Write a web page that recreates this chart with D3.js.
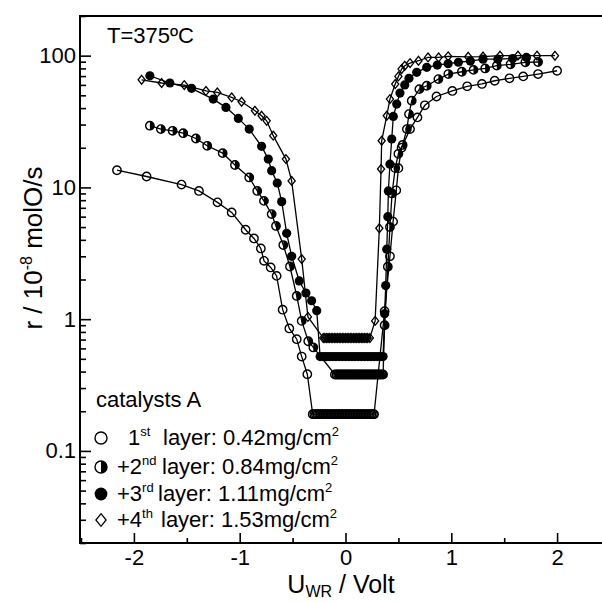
<!DOCTYPE html>
<html>
<head>
<meta charset="utf-8">
<script src="https://cdn.jsdelivr.net/npm/d3@7"></script>
<style>
    body { margin: 0; background: #fff; }
    svg { display: block; font-family: "Liberation Sans", Arial, sans-serif; }
</style>
</head>
<body>
<svg id="chart"></svg>
<script>
"use strict";

var Width = 602,
    Height = 602;

// [U_WR (V), r (10^-8 molO/s)]
// 1st layer (open circles)
var layer1 = [
    [-2.16, 13.5], [-1.88, 12.1], [-1.55, 10.5], [-1.385, 9.4], [-1.21, 7.7], [-1.076, 6.46], [-0.944, 4.77], [-0.865, 4.1],
    [-0.80, 3.44], [-0.77, 2.77], [-0.707, 2.47], [-0.651, 2.13], [-0.594, 1.18], [-0.531, 0.85], [-0.461, 0.705], [-0.414, 0.52], [-0.361, 0.382],
    [-0.31, 0.19], [-0.295, 0.19], [-0.28, 0.19], [-0.265, 0.19], [-0.25, 0.19], [-0.235, 0.19], [-0.22, 0.19], [-0.205, 0.19],
    [-0.19, 0.19], [-0.175, 0.19], [-0.16, 0.19], [-0.145, 0.19], [-0.13, 0.19], [-0.115, 0.19], [-0.10, 0.19], [-0.085, 0.19],
    [-0.07, 0.19], [-0.055, 0.19], [-0.04, 0.19], [-0.025, 0.19], [-0.01, 0.19], [0.005, 0.19], [0.02, 0.19], [0.035, 0.19],
    [0.05, 0.19], [0.065, 0.19], [0.08, 0.19], [0.095, 0.19], [0.11, 0.19], [0.125, 0.19], [0.14, 0.19], [0.155, 0.19],
    [0.17, 0.19], [0.185, 0.19], [0.20, 0.19], [0.215, 0.19], [0.23, 0.19], [0.245, 0.19], [0.26, 0.19], [0.27, 0.19],
    [0.37, 1.15], [0.42, 3.0], [0.45, 5.5], [0.48, 9.5], [0.50, 14], [0.53, 20], [0.61, 27.7], [0.68, 34], [0.75, 42],
    [0.86, 49], [1.01, 54], [1.15, 58.5], [1.29, 61], [1.41, 64.5], [1.55, 67.3], [1.68, 69.6], [1.82, 72.5], [2.0, 76.8]
];

// +2nd layer (half filled circles)
var layer2 = [
    [-1.849, 29.4], [-1.745, 27.7], [-1.634, 26.9], [-1.534, 25.8], [-1.414, 23.5], [-1.307, 20.7], [-1.161, 18.2], [-1.045, 14.8],
    [-0.91, 11.9], [-0.834, 9.4], [-0.771, 7.9], [-0.698, 6.27], [-0.657, 5.1], [-0.588, 3.65], [-0.525, 2.51], [-0.461, 1.5],
    [-0.414, 0.97], [-0.352, 0.68], [-0.304, 0.61],
    [-0.10, 0.38], [-0.085, 0.38], [-0.07, 0.38], [-0.055, 0.38], [-0.04, 0.38], [-0.025, 0.38], [-0.01, 0.38], [0.005, 0.38],
    [0.02, 0.38], [0.035, 0.38], [0.05, 0.38], [0.065, 0.38], [0.08, 0.38], [0.095, 0.38], [0.11, 0.38], [0.125, 0.38],
    [0.14, 0.38], [0.155, 0.38], [0.17, 0.38], [0.185, 0.38], [0.20, 0.38], [0.215, 0.38], [0.23, 0.38], [0.245, 0.38],
    [0.26, 0.38], [0.275, 0.38], [0.29, 0.38], [0.305, 0.38], [0.32, 0.38], [0.335, 0.38], [0.355, 0.38],
    [0.37, 0.9], [0.40, 2.5], [0.42, 5], [0.44, 9], [0.47, 14], [0.50, 18], [0.54, 21], [0.58, 27.7], [0.60, 36], [0.626, 45.5],
    [0.698, 55.7], [0.768, 59.1], [0.878, 66.4], [0.972, 72.5], [1.10, 75.5], [1.21, 78], [1.32, 80], [1.43, 84], [1.56, 86],
    [1.70, 89], [1.82, 89.5]
];

// +3rd layer (filled circles)
var layer3 = [
    [-1.849, 70.4], [-1.66, 62], [-1.455, 56.5], [-1.25, 46.8], [-1.13, 40.5], [-1.013, 33.4], [-0.91, 27.7], [-0.793, 20.5],
    [-0.73, 16.4], [-0.698, 13.4], [-0.645, 10.8], [-0.603, 7.8], [-0.556, 4.48], [-0.509, 3.0], [-0.437, 1.95], [-0.374, 1.58],
    [-0.32, 1.38], [-0.272, 1.16],
    [-0.24, 0.52], [-0.21, 0.52], [-0.18, 0.52], [-0.15, 0.52], [-0.12, 0.52], [-0.09, 0.52], [-0.06, 0.52], [-0.03, 0.52],
    [0, 0.52], [0.03, 0.52], [0.06, 0.52], [0.09, 0.52], [0.12, 0.52], [0.15, 0.52], [0.18, 0.52], [0.21, 0.52],
    [0.24, 0.52], [0.27, 0.52], [0.30, 0.52], [0.33, 0.52], [0.355, 0.52],
    [0.37, 1.1], [0.38, 1.8], [0.39, 3.4], [0.40, 6], [0.405, 9.4], [0.42, 15], [0.437, 23.3], [0.452, 34.6], [0.484, 42.9],
    [0.515, 52], [0.56, 60], [0.60, 67.3], [0.673, 74.7], [0.768, 81.5], [0.868, 84.9], [0.97, 87], [1.067, 89.1],
    [1.18, 91], [1.30, 94], [1.44, 94], [1.58, 95], [1.71, 97]
];

// +4th layer (open diamonds)
var layer4 = [
    [-1.927, 65.6], [-1.738, 62], [-1.524, 59.8], [-1.319, 54], [-1.212, 52.6], [-1.076, 48.2], [-0.982, 44.7], [-0.856, 38.2],
    [-0.793, 35], [-0.745, 32], [-0.683, 24.7], [-0.563, 16.4], [-0.509, 11.2], [-0.414, 2.86], [-0.355, 1.04],
    [-0.21, 0.72], [-0.195, 0.72], [-0.18, 0.72], [-0.165, 0.72], [-0.15, 0.72], [-0.135, 0.72], [-0.12, 0.72], [-0.105, 0.72],
    [-0.09, 0.72], [-0.075, 0.72], [-0.06, 0.72], [-0.045, 0.72], [-0.03, 0.72], [-0.015, 0.72], [0, 0.72], [0.015, 0.72],
    [0.03, 0.72], [0.045, 0.72], [0.06, 0.72], [0.075, 0.72], [0.09, 0.72], [0.105, 0.72], [0.12, 0.72], [0.135, 0.72],
    [0.15, 0.72], [0.165, 0.72], [0.18, 0.72], [0.195, 0.72], [0.21, 0.72], [0.23, 0.72],
    [0.28, 0.97], [0.32, 4.9], [0.336, 13.8], [0.342, 22.6], [0.39, 35], [0.42, 46.8], [0.47, 60.9], [0.50, 69.6],
    [0.53, 79.1], [0.56, 83.8], [0.61, 87.8], [0.69, 91.5], [0.78, 97], [0.88, 97], [0.97, 98.8], [1.16, 98],
    [1.30, 98.5], [1.46, 100], [1.63, 100], [1.81, 100], [1.98, 99.9]
];

var xTickValues = [-2, -1, 0, 1, 2],
    xTickLabels = ["-2", "-1", "0", "1", "2"],
    xMinorValues = [-2.5, -1.5, -0.5, 0.5, 1.5, 2.5],
    yTickValues = [0.1, 1, 10, 100],
    yTickLabels = ["0.1", "1", "10", "100"];

var legendNames = ["1", "+2", "+3", "+4"],
    legendSups = ["st", "nd", "rd", "th"],
    legendMasses = ["0.42", "0.84", "1.11", "1.53"];

var series = [
    { pts: layer1, marker: "open" },
    { pts: layer2, marker: "half" },
    { pts: layer3, marker: "full" },
    { pts: layer4, marker: "diamond" }
];

var plotLeft = 80, plotTop = 16, plotBottom = 543, plotRight = 610;

var x = d3.scaleLinear().domain([-2.5, 2.5]).range([81, 610]);
var y = d3.scaleLog().domain([0.02, 200]).range([plotBottom, plotTop]);

var svg = d3.select("#chart")
    .attr("width", Width)
    .attr("height", Height);

// draw a marker of given kind and size into a group
function drawMarker(g, kind, s) {
    if (kind === "open") {
        g.append("circle").attr("r", s).attr("fill", "none").attr("stroke", "#000").attr("stroke-width", 1.4);
    } else if (kind === "half") {
        g.append("path")
            .attr("d", "M0," + (-s) + " A" + s + "," + s + " 0 0,1 0," + s + " Z")
            .attr("fill", "#000");
        g.append("circle").attr("r", s).attr("fill", "none").attr("stroke", "#000").attr("stroke-width", 1.4);
    } else if (kind === "full") {
        g.append("circle").attr("r", s + 0.4).attr("fill", "#000");
    } else {
        var w = s * 0.85, h = s * 1.05;
        g.append("path")
            .attr("d", "M0," + (-h) + " L" + w + ",0 L0," + h + " L" + (-w) + ",0 Z")
            .attr("fill", "none").attr("stroke", "#000").attr("stroke-width", 1.3);
    }
}

// frame
svg.append("rect")
    .attr("x", plotLeft)
    .attr("y", plotTop)
    .attr("width", plotRight - plotLeft)
    .attr("height", plotBottom - plotTop)
    .attr("fill", "none")
    .attr("stroke", "#000")
    .attr("stroke-width", 2);

// x axis, ticks pointing inward
var xAxisG = svg.append("g").attr("transform", "translate(0," + plotBottom + ")");
xAxisG.call(d3.axisBottom(x)
        .tickValues(xTickValues)
        .tickFormat(function (d, i) { return xTickLabels[i]; })
        .tickSize(-10)
        .tickPadding(6))
    .attr("font-size", 22)
    .attr("font-family", null);
xAxisG.select(".domain").remove();
xAxisG.selectAll(".tick line").attr("stroke-width", 1.6);

var xMinorG = svg.append("g").attr("transform", "translate(0," + plotBottom + ")");
xMinorG.call(d3.axisBottom(x).tickValues(xMinorValues).tickSize(-5).tickFormat(""));
xMinorG.select(".domain").remove();
xMinorG.selectAll(".tick line").attr("stroke-width", 1.6);

// y axis, log, ticks pointing inward
var yAxisG = svg.append("g").attr("transform", "translate(" + plotLeft + ",0)");
yAxisG.call(d3.axisLeft(y)
        .tickValues(yTickValues)
        .tickFormat(function (d, i) { return yTickLabels[i]; })
        .tickSize(-11)
        .tickPadding(4))
    .attr("font-size", 22)
    .attr("font-family", null);
yAxisG.select(".domain").remove();
yAxisG.selectAll(".tick line").attr("stroke-width", 1.6);

var yMinor = y.ticks().filter(function (d) { return yTickValues.indexOf(d) < 0; });
var yMinorG = svg.append("g").attr("transform", "translate(" + plotLeft + ",0)");
yMinorG.call(d3.axisLeft(y).tickValues(yMinor).tickSize(-6).tickFormat(""));
yMinorG.select(".domain").remove();
yMinorG.selectAll(".tick line").attr("stroke-width", 1.6);

// series lines
var line = d3.line()
    .x(function (d) { return x(d[0]); })
    .y(function (d) { return y(d[1]); });

series.forEach(function (s) {
    svg.append("path")
        .datum(s.pts)
        .attr("d", line)
        .attr("fill", "none")
        .attr("stroke", "#000")
        .attr("stroke-width", 1.3);
});

series.forEach(function (s) {
    svg.append("g")
        .selectAll("g")
        .data(s.pts)
        .enter()
        .append("g")
        .attr("transform", function (d) { return "translate(" + x(d[0]) + "," + y(d[1]) + ")"; })
        .each(function () { drawMarker(d3.select(this), s.marker, 4.2); });
});

// title
svg.append("text")
    .attr("x", 107)
    .attr("y", 43)
    .attr("font-size", 22)
    .text("T=375ºC");

// legend
svg.append("text")
    .attr("x", 96)
    .attr("y", 407)
    .attr("font-size", 22)
    .text("catalysts A");

var legendY = [445, 474, 501, 527],
    legendNameX = [128, 117, 117, 117],
    legendLayerX = [163, 162, 158, 161];

series.forEach(function (s, i) {
    var g = svg.append("g").attr("transform", "translate(101," + (legendY[i] - 7) + ")");
    drawMarker(g, s.marker, 6);

    var t = svg.append("text")
        .attr("x", legendNameX[i])
        .attr("y", legendY[i])
        .attr("font-size", 22);
    t.append("tspan").text(legendNames[i]);
    t.append("tspan").attr("font-size", 13).attr("dy", -9).text(legendSups[i]);
    t.append("tspan").attr("x", legendLayerX[i]).attr("y", legendY[i]).text("layer: " + legendMasses[i] + "mg/cm");
    t.append("tspan").attr("font-size", 13).attr("dy", -9).text("2");
});

// axis titles
var xl = svg.append("text")
    .attr("x", 341)
    .attr("y", 593)
    .attr("text-anchor", "middle")
    .attr("font-size", 25);
xl.append("tspan").text("U");
xl.append("tspan").attr("font-size", 16).attr("dy", 4).text("WR");
xl.append("tspan").attr("dy", -4).text(" / Volt");

var yl = svg.append("text")
    .attr("transform", "translate(42,248) rotate(-90)")
    .attr("text-anchor", "middle")
    .attr("font-size", 26);
yl.append("tspan").text("r / 10");
yl.append("tspan").attr("font-size", 16).attr("dy", -10).text("-8");
yl.append("tspan").attr("dy", 10).text(" molO/s");
</script>
</body>
</html>
